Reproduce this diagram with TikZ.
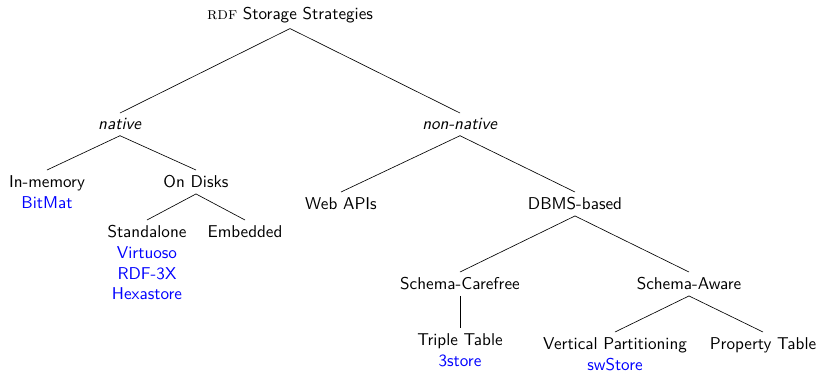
\documentclass[tikz,border=0pt]{standalone}
\usepackage{tikz}
\newcommand{\sys}[1]{\textcolor{blue}{#1}}

\begin{document}
\begin{tikzpicture}[x=0.625pt,y=-0.625pt,font=\fontsize{10.7pt}{12.9pt}\selectfont\sffamily,
  lvl/.style={anchor=north,align=center}]
\useasboundingbox (0,0) rectangle (820,370);
\node (root) at (290,15) {\textrm{\textsc{rdf}} Storage Strategies};
% native branch
\node[lvl] (native) at (120,113) {\textit{native}};
\node[lvl] (inmem) at (47,170) {In-memory\\\sys{BitMat}};
\node[lvl] (disks) at (196,170) {On Disks};
\node[lvl] (standalone) at (147,220) {Standalone\\\sys{Virtuoso}\\\sys{RDF-3X}\\\sys{Hexastore}};
\node[lvl] (embedded) at (245,220) {Embedded};
% non-native branch
\node[lvl] (nonnative) at (460,113) {\textit{non-native}};
\node[lvl] (webapi) at (341,192) {Web APIs};
\node[lvl] (dbms) at (575,192) {DBMS-based};
\node[lvl] (carefree) at (460,272) {Schema-Carefree};
\node[lvl] (aware) at (689,272) {Schema-Aware};
\node[lvl] (triple) at (460,328) {Triple Table\\\sys{3store}};
\node[lvl] (vertical) at (615,332) {Vertical Partitioning\\\sys{swStore}};
\node[lvl] (property) at (763,332) {Property Table};
\foreach \a/\b in {root/native,root/nonnative,native/inmem,native/disks,
  disks/standalone,disks/embedded,nonnative/webapi,nonnative/dbms,
  dbms/carefree,dbms/aware,carefree/triple,aware/vertical,aware/property}
  \draw (\a.south) -- (\b.north);
\end{tikzpicture}
\end{document}
